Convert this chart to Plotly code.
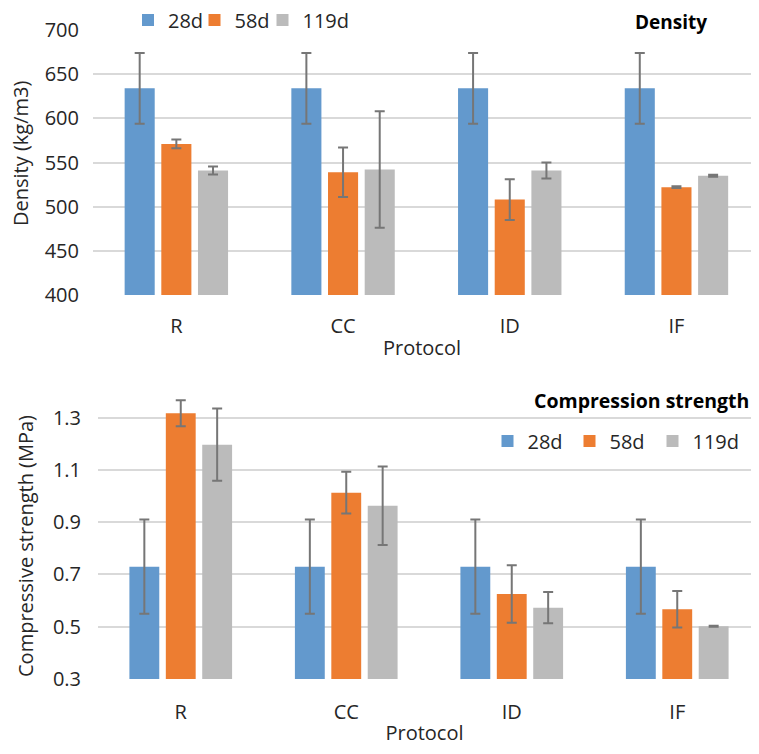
import plotly.graph_objects as go

protocols = ["R", "CC", "ID", "IF"]
ages = ["28d", "58d", "119d"]

density_28d = [634, 634, 634, 634]
density_58d = [571, 539, 508, 522]
density_119d = [541, 542, 541, 535]
density_err_28d = [40, 40, 40, 40]
density_err_58d = [5, 28, 23, 1]
density_err_119d = [4.5, 66, 9, 1]

strength_28d = [0.73, 0.73, 0.73, 0.73]
strength_58d = [1.317, 1.013, 0.625, 0.567]
strength_119d = [1.197, 0.963, 0.573, 0.502]
strength_err_28d = [0.18, 0.18, 0.18, 0.18]
strength_err_58d = [0.05, 0.08, 0.11, 0.07]
strength_err_119d = [0.138, 0.15, 0.06, 0.002]

density_ticks = [400, 450, 500, 550, 600, 650, 700]
strength_ticks = [0.3, 0.5, 0.7, 0.9, 1.1, 1.3]
strength_ticktext = ["0.3", "0.5", "0.7", "0.9", "1.1", "1.3"]

colors = ["#6399CD", "#ED7D31", "#BBBBBB"]
err_color = "#767676"
font_family = "Open Sans"
text_color = "#262626"

# page body has an 8px margin on every side: keep the figure inside the window
OFF = 8
W, H = 759 - 2 * OFF, 754 - 2 * OFF
RIGHT = OFF + W  # right edge of the figure in window pixels


def px(x):
    return (x - OFF) / W


def py(y):
    return 1 - (y - OFF) / H


# plot areas in window pixels
top_left, top_cat = 93, 166.7
bot_left, bot_cat = 98, 165.5
top_range = [-0.5, -0.5 + (RIGHT - top_left) / top_cat]
bot_range = [-0.5, -0.5 + (RIGHT - bot_left) / bot_cat]

# legend placement (window pixels): one legend per entry so spacing matches
top_legend_x = [128, 194.5, 262.5]
bottom_legend_x = [487.5, 569.5, 652.5]
top_legend_y = 20
bottom_legend_y = 441

fig = go.Figure()

dens = [density_28d, density_58d, density_119d]
dens_err = [density_err_28d, density_err_58d, density_err_119d]
stre = [strength_28d, strength_58d, strength_119d]
stre_err = [strength_err_28d, strength_err_58d, strength_err_119d]

legend_ids_top = ["legend", "legend2", "legend3"]
legend_ids_bot = ["legend4", "legend5", "legend6"]

for i, age in enumerate(ages):
    fig.add_trace(go.Bar(
        x=protocols, y=dens[i], name=age, marker_color=colors[i],
        marker_line_width=0,
        error_y=dict(type="data", array=dens_err[i], color=err_color, thickness=2, width=5),
        xaxis="x", yaxis="y", legend=legend_ids_top[i], offsetgroup=str(i),
    ))
for i, age in enumerate(ages):
    fig.add_trace(go.Bar(
        x=protocols, y=stre[i], name=age, marker_color=colors[i],
        marker_line_width=0,
        error_y=dict(type="data", array=stre_err[i], color=err_color, thickness=2, width=5),
        xaxis="x2", yaxis="y2", legend=legend_ids_bot[i], offsetgroup=str(i),
    ))

grid = "#D9D9D9"
tickfont = dict(family=font_family, size=20, color=text_color)
titlefont = dict(family=font_family, size=20, color=text_color)


def legend_cfg(lx, ly):
    return dict(
        orientation="h", x=px(lx), y=py(ly), xanchor="left", yanchor="middle",
        font=dict(family=font_family, size=20, color=text_color),
        bgcolor="rgba(0,0,0,0)", itemwidth=30,
    )


layout_legends = {}
for i in range(3):
    layout_legends[legend_ids_top[i]] = legend_cfg(top_legend_x[i], top_legend_y)
    layout_legends[legend_ids_bot[i]] = legend_cfg(bottom_legend_x[i], bottom_legend_y)

fig.update_layout(
    width=W, height=H,
    margin=dict(l=0, r=0, t=0, b=0, autoexpand=False),
    paper_bgcolor="white", plot_bgcolor="white",
    barmode="group", bargap=0.34, bargroupgap=0.18,
    font=dict(family=font_family, size=20, color=text_color),
    showlegend=True,
    xaxis=dict(
        domain=[px(top_left), 1.0], range=top_range, anchor="y",
        showgrid=False, showline=False, zeroline=False,
        ticks="outside", ticklen=13, tickcolor="rgba(0,0,0,0)",
        tickfont=tickfont,
        title=dict(text="Protocol", font=titlefont, standoff=2),
    ),
    yaxis=dict(
        domain=[py(295), py(30)], range=[400, 700], anchor="x",
        tickvals=density_ticks, showgrid=True, gridcolor=grid, gridwidth=1.5,
        zeroline=False, showline=False,
        ticks="outside", ticklen=9, tickcolor="rgba(0,0,0,0)",
        tickfont=tickfont,
    ),
    xaxis2=dict(
        domain=[px(bot_left), 1.0], range=bot_range, anchor="y2",
        showgrid=False, showline=False, zeroline=False,
        ticks="outside", ticklen=15, tickcolor="rgba(0,0,0,0)",
        tickfont=tickfont,
        title=dict(text="Protocol", font=titlefont, standoff=9),
    ),
    yaxis2=dict(
        domain=[py(679), py(391.6)], range=[0.3, 1.4], anchor="x2",
        tickvals=strength_ticks, ticktext=strength_ticktext,
        showgrid=True, gridcolor=grid, gridwidth=1.5,
        zeroline=False, showline=False,
        ticks="outside", ticklen=12, tickcolor="rgba(0,0,0,0)",
        tickfont=tickfont,
    ),
    annotations=[
        dict(text="Density (kg/m3)", x=px(21), y=py(154), xref="paper", yref="paper",
             xanchor="center", yanchor="middle", textangle=-90, showarrow=False,
             font=titlefont),
        dict(text="Compressive strength (MPa)", x=px(25), y=py(546), xref="paper", yref="paper",
             xanchor="center", yanchor="middle", textangle=-90, showarrow=False,
             font=titlefont),
        dict(text="<b>Density</b>", x=px(671), y=py(22), xref="paper", yref="paper",
             xanchor="center", yanchor="middle", showarrow=False,
             font=dict(family=font_family, size=19, color="black")),
        dict(text="<b>Compression strength</b>", x=1.0, y=py(401), xref="paper", yref="paper",
             xanchor="right", yanchor="middle", showarrow=False,
             font=dict(family=font_family, size=19.5, color="black")),
    ],
    **layout_legends,
)

fig.write_html("out.html")
